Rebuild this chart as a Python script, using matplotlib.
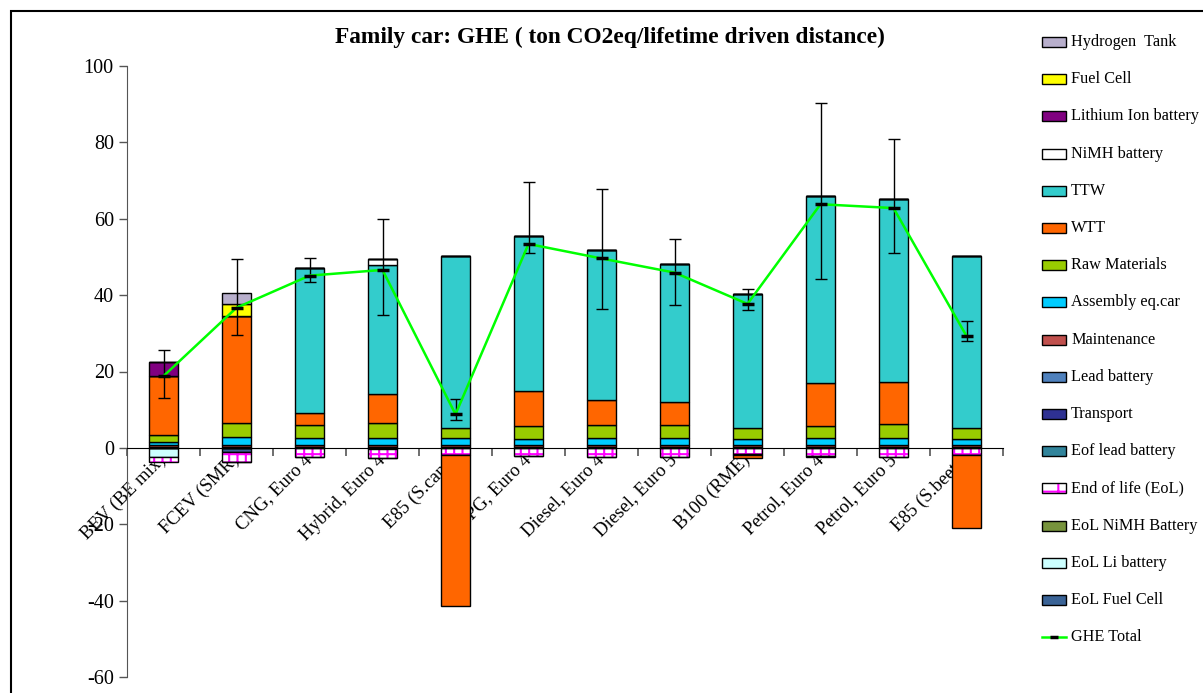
import matplotlib
matplotlib.use('Agg')
import matplotlib.pyplot as plt
import numpy as np
from matplotlib.patches import Rectangle
from matplotlib.lines import Line2D

plt.rcParams['font.family'] = ['Liberation Serif', 'DejaVu Serif']
plt.rcParams['hatch.linewidth'] = 1.5
plt.rcParams['axes.unicode_minus'] = False

# Categories
cars = ['BEV (BE mix)', 'FCEV (SMR)', 'CNG, Euro 4', 'Hybrid, Euro 4', 'E85 (S.cane)',
        'LPG, Euro 4', 'Diesel, Euro 4', 'Diesel, Euro 5', 'B100 (RME)',
        'Petrol, Euro 4', 'Petrol, Euro 5', 'E85 (S.beets)']

# Series (ton CO2eq), first series = bottom of the stack
eol_fuel_cell = [0, -1.1, 0, 0, 0, 0, 0, 0, 0, 0, 0, 0]
eol_li_battery = [-2.4, 0, 0, 0, 0, 0, 0, 0, 0, 0, 0, 0]
eol_nimh = [0, 0, 0, -0.3, 0, 0, 0, 0, 0, 0, 0, 0]
end_of_life = [-1.3, -2.5, -2.3, -2.3, -1.8, -2.1, -2.3, -2.4, -1.7, -2.2, -2.4, -1.8]
eof_lead = [0, -0.1, -0.1, -0.1, -0.1, -0.1, -0.1, -0.1, -0.1, -0.1, -0.1, -0.1]
transport = [0.15] * 12
lead_battery = [0.15] * 12
maintenance = [0.4] * 12
assembly = [0.8, 2.1, 1.9, 1.8, 1.8, 1.7, 1.8, 1.9, 1.6, 1.9, 1.9, 1.6]
raw_materials = [1.8, 3.7, 3.3, 4.0, 2.8, 3.4, 3.4, 3.4, 2.8, 3.2, 3.7, 2.8]
wtt = [15.4, 28.1, 3.3, 7.6, -39.6, 9.2, 6.7, 6.0, -0.8, 11.2, 11.0, -19.2]
ttw = [0, 0, 38.0, 33.8, 45.0, 40.5, 39.2, 36.1, 35.1, 48.9, 48.0, 45.1]
nimh_battery = [0, 0, 0, 1.5, 0, 0, 0, 0, 0, 0, 0, 0]
li_battery = [3.7, 0, 0, 0, 0, 0, 0, 0, 0, 0, 0, 0]
fuel_cell = [0, 3.1, 0, 0, 0, 0, 0, 0, 0, 0, 0, 0]
hydrogen_tank = [0, 2.8, 0, 0, 0, 0, 0, 0, 0, 0, 0, 0]

ghe_total = [18.8, 36.7, 45.1, 46.6, 8.8, 53.4, 49.6, 45.9, 37.7, 63.8, 62.8, 29.3]
ghe_low = [13.0, 29.6, 43.4, 34.8, 7.2, 51.1, 36.4, 37.5, 36.2, 44.3, 51.0, 27.9]
ghe_high = [25.6, 49.5, 49.7, 59.9, 12.7, 69.6, 67.7, 54.7, 41.5, 90.4, 81.0, 33.3]

series = [
    ('EoL Fuel Cell', eol_fuel_cell, '#3A6396', None),
    ('EoL Li battery', eol_li_battery, '#CCFFFF', None),
    ('EoL NiMH Battery', eol_nimh, '#77933C', None),
    ('End of life (EoL)', end_of_life, 'white', '++'),
    ('Eof lead battery', eof_lead, '#31849B', None),
    ('Transport', transport, '#2E3192', None),
    ('Lead battery', lead_battery, '#4F81BD', None),
    ('Maintenance', maintenance, '#C0504D', None),
    ('Assembly eq.car', assembly, '#00CCFF', None),
    ('Raw Materials', raw_materials, '#99CC00', None),
    ('WTT', wtt, '#FF6600', None),
    ('TTW', ttw, '#33CCCC', None),
    ('NiMH battery', nimh_battery, 'white', None),
    ('Lithium Ion battery', li_battery, '#800080', None),
    ('Fuel Cell', fuel_cell, '#FFFF00', None),
    ('Hydrogen  Tank', hydrogen_tank, '#B8AFCC', None),
]

fig = plt.figure(figsize=(12.03, 6.93), dpi=100)
ax = fig.add_axes([127 / 1203, 1 - 677 / 693, 876 / 1203, 611 / 693])

x = np.arange(len(cars))
w = 0.4
pos_bottom = np.zeros(len(cars))
neg_bottom = np.zeros(len(cars))
for name, vals, color, hatch in series:
    v = np.array(vals, dtype=float)
    bottom = np.where(v >= 0, pos_bottom, neg_bottom)
    if hatch:
        ax.bar(x, v, w, bottom=bottom, color=color, edgecolor='#FF00FF',
               hatch=hatch, linewidth=0, zorder=2)
        ax.bar(x, v, w, bottom=bottom, color='none', edgecolor='black',
               linewidth=1, zorder=2)
    else:
        ax.bar(x, v, w, bottom=bottom, color=color, edgecolor='black',
               linewidth=1, zorder=2)
    pos_bottom += np.where(v >= 0, v, 0)
    neg_bottom += np.where(v < 0, v, 0)

# GHE total with ranges
tot = np.array(ghe_total)
yerr = [tot - np.array(ghe_low), np.array(ghe_high) - tot]
ax.errorbar(x, tot, yerr=yerr, fmt='none', ecolor='black', elinewidth=1,
            capsize=4, capthick=1, zorder=3)
ax.plot(x, tot, color='#00FF00', lw=1.8, zorder=4)
ax.plot(x, tot, ls='none', marker='_', ms=8, mew=2.5, color='black', zorder=5)

ax.set_xlim(-0.5, len(cars) - 0.5)
ax.set_ylim(-60, 100)
ax.set_yticks(np.arange(-60, 101, 20))
ax.tick_params(axis='y', labelsize=14.5, length=6, direction='out', width=1,
               color='#555555')
ax.spines['top'].set_visible(False)
ax.spines['right'].set_visible(False)
ax.spines['bottom'].set_position(('data', 0))
ax.spines['left'].set_color('#555555')
ax.set_xticks(x)
ax.set_xticklabels(cars, rotation=45, ha='right', va='center',
                   rotation_mode='anchor', fontsize=13.5)
ax.tick_params(axis='x', which='major', length=0, pad=7)
ax.set_xticks(np.arange(-0.5, len(cars)), minor=True)
ax.tick_params(axis='x', which='minor', length=6, direction='out',
               color='#555555', width=1.2)
for lbl in ax.get_xticklabels():
    lbl.set_zorder(6)

fig.text(610 / 1203, 1 - 37 / 693,
         'Family car: GHE ( ton CO2eq/lifetime driven distance)',
         ha='center', va='center', fontsize=16.8, fontweight='bold')

# legend (drawn in the order of the reference)
leg_y0 = 42
leg_dy = 37.2
for i, (name, vals, color, hatch) in enumerate(series[::-1]):
    yc = 1 - (leg_y0 + i * leg_dy) / 693
    if hatch:
        fig.patches.append(Rectangle((1042 / 1203, yc - 5 / 693), 24 / 1203, 10 / 693,
                                     transform=fig.transFigure, facecolor=color,
                                     edgecolor='#FF00FF', hatch='+', lw=0))
        fig.patches.append(Rectangle((1042 / 1203, yc - 5 / 693), 24 / 1203, 10 / 693,
                                     transform=fig.transFigure, facecolor='none',
                                     edgecolor='black', lw=1))
    else:
        fig.patches.append(Rectangle((1042 / 1203, yc - 5 / 693), 24 / 1203, 10 / 693,
                                     transform=fig.transFigure, facecolor=color,
                                     edgecolor='black', lw=1))
    fig.text(1071 / 1203, yc, name, ha='left', va='center', fontsize=11.7)
yc = 1 - (leg_y0 + len(series) * leg_dy) / 693
fig.lines.append(Line2D([1042 / 1203, 1066 / 1203], [yc, yc], transform=fig.transFigure,
                        color='#00FF00', lw=1.8))
fig.lines.append(Line2D([1054 / 1203], [yc], transform=fig.transFigure, marker='_',
                        ms=6, mew=2.5, color='black'))
fig.text(1071 / 1203, yc, 'GHE Total', ha='left', va='center', fontsize=11.7)

# outer frame
fig.patches.append(Rectangle((11 / 1203, -0.1), 1.2, 1.1 - 11 / 693,
                             transform=fig.transFigure, facecolor='none',
                             edgecolor='black', lw=1.5))

fig.savefig('out.png', dpi=100)
